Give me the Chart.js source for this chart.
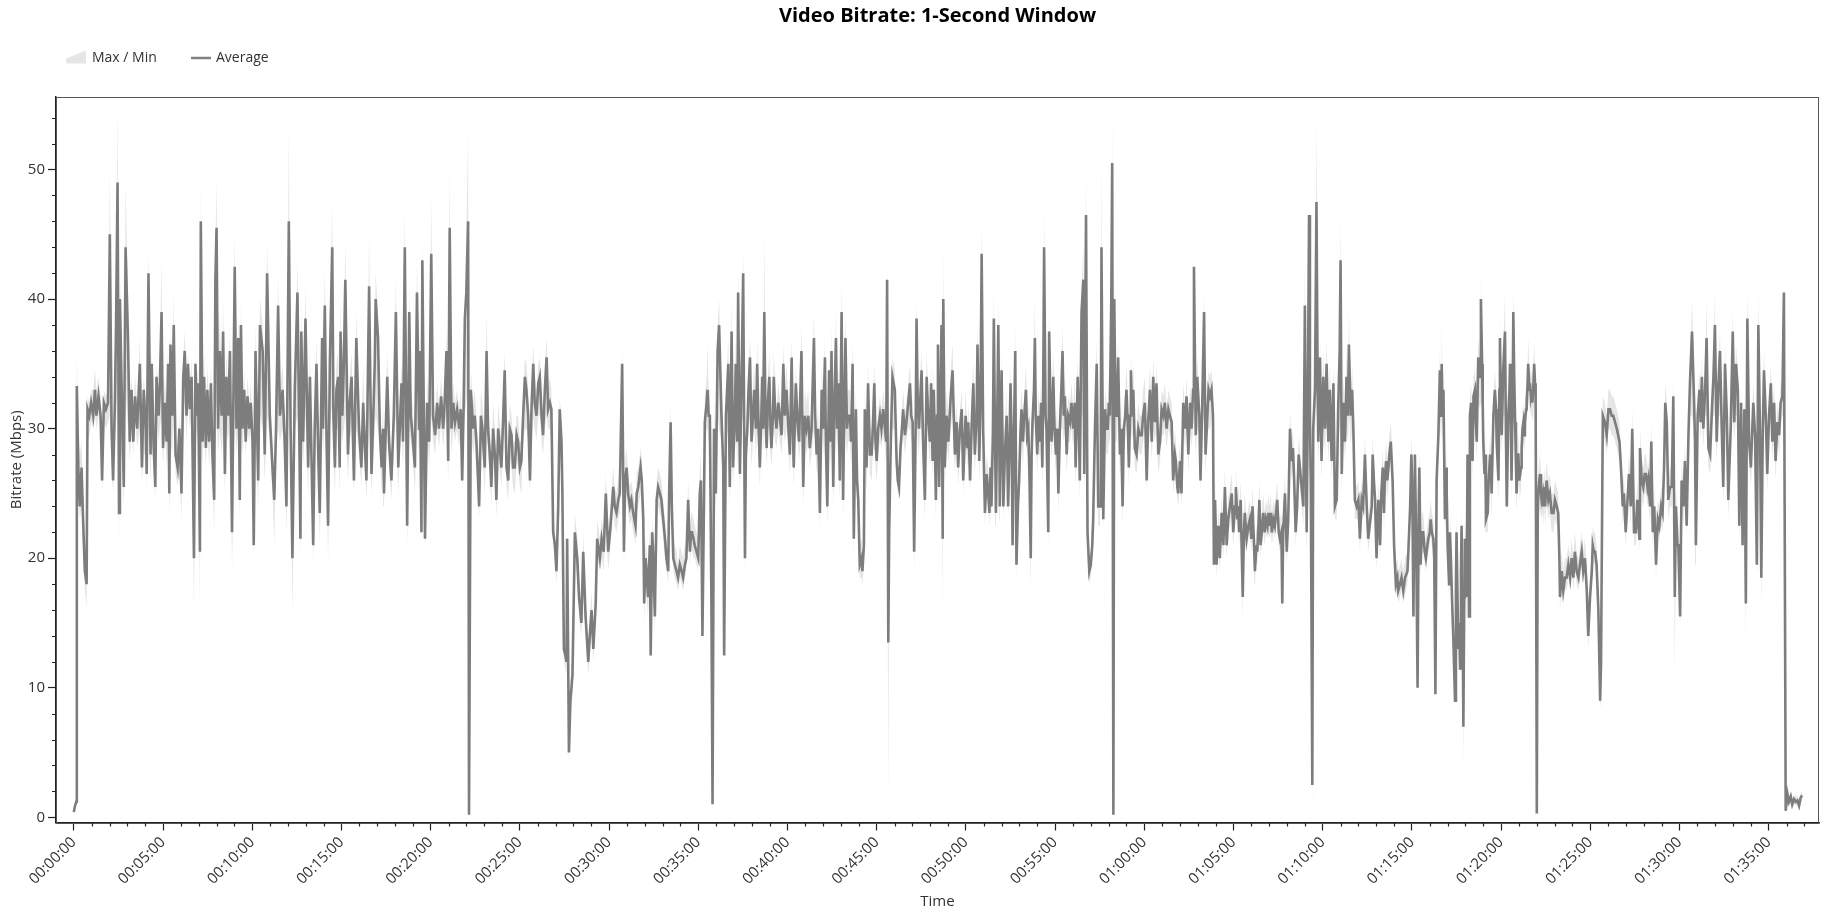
<!DOCTYPE html>
<html><head><meta charset="utf-8">
<script src="https://cdn.jsdelivr.net/npm/chart.js@4.4.1/dist/chart.umd.min.js"></script>
<style>html,body{margin:0;padding:0;background:#fff;overflow:hidden}</style>
</head><body>
<canvas id="c" width="1843" height="916"></canvas>
<script>
const chartTitle = 'Video Bitrate: 1-Second Window';
const xAxisTitle = 'Time';
const yAxisTitle = 'Bitrate (Mbps)';
const legendLabels = ['Max / Min', 'Average'];
const xMajorLabels = ['00:00:00','00:05:00','00:10:00','00:15:00','00:20:00','00:25:00','00:30:00','00:35:00','00:40:00','00:45:00','00:50:00','00:55:00','01:00:00','01:05:00','01:10:00','01:15:00','01:20:00','01:25:00','01:30:00','01:35:00'];
const yMajorLabels = [0, 10, 20, 30, 40, 50];

// seconds from start
const timeSec = [
0,3,8,10,15,20,26,31,37,43,
46,52,58,65,71,76,83,90,95,101,
108,115,121,127,132,138,142,147,152,155,
160,168,174,182,188,194,200,206,213,222,
229,235,242,245,251,258,262,268,274,278,
285,289,295,300,306,312,317,321,325,331,
336,342,349,355,362,368,373,379,384,390,
396,404,409,414,418,424,427,433,438,444,
449,455,461,466,472,476,480,485,491,497,
502,508,513,519,525,532,541,547,553,558,
562,567,573,578,584,590,595,601,605,611,
620,626,635,642,650,659,668,674,680,687,
693,702,709,715,723,729,735,743,752,758,
762,765,771,779,788,794,799,805,810,816,
822,827,835,838,844,850,855,861,869,873,
878,883,889,894,897,903,908,913,922,928,
934,942,950,959,967,973,978,984,993,1001,
1007,1012,1015,1023,1029,1035,1040,1043,1049,1054,
1060,1068,1076,1083,1091,1096,1102,1107,1113,1121,
1128,1133,1139,1147,1154,1161,1163,1169,1172,1181,
1188,1195,1202,1208,1215,1222,1228,1235,1242,1247,
1253,1259,1264,1270,1276,1282,1289,1296,1301,1306,
1311,1315,1320,1326,1329,1335,1343,1348,1354,1363,
1369,1374,1382,1388,1393,1399,1404,1410,1416,1421,
1427,
1438,1444,1449,1455,1461,1466,1472,1477,1483,1489,
1494,1500,1505,1511,1517,1522,1528,1534,1539,1545,
1550,1556,1562,1567,1573,1578,1584,1590,1595,1601,
1606,1612,1618,1623,1629,1634,1640,1643,1648,1653,
1657,1659,1665,1670,1677,1685,1693,1699,1707,1713,
1721,1730,1735,1741,1747,1755,1760,1769,1775,1782,
1789,1797,1805,1814,1819,1825,1831,1836,1844,1850,
1854,1859,1864,1870,1875,1881,1889,1893,1898,1906,
1910,1915,1918,1923,1926,1931,1937,1940,1945,1948,
1954,1960,1965,1971,1976,1982,1988,1993,1999,2002,
2007,2011,2016,2021,2027,2032,2038,2044,2049,2055,
2060,2066,2072,2076,2079,2084,2088,2094,2100,2105,
2109,2114,2119,2122,2128,2131,2135,2139,2144,2148,
2153,2159,2165,
2170,2178,2184,2187,2193,2201,2206,2212,2217,2223,
2226,2231,2234,2240,2245,2251,2257,2260,2265,2269,
2274,2279,2284,2288,2294,2298,2303,2307,2312,2315,
2318,2322,2326,2330,2334,2339,2343,2346,2351,2354,
2359,2363,2369,2374,2380,2386,2391,2397,2402,2408,
2414,2417,2421,2428,2434,2439,2447,2453,2458,2464,
2470,2475,2481,2489,2493,2498,2503,2509,2515,2520,
2526,2529,2534,2540,2545,2548,2554,2559,2563,2567,
2571,2576,2582,2587,2592,2595,2600,2604,2610,2614,
2619,2623,2627,2630,2634,2638,2643,2649,2652,2657,
2660,2666,2671,2677,2683,2687,2692,2696,2700,2705,
2711,2716,2722,2728,2732,2735,2739,2742,2747,2753,
2761,2767,2771,2775,2780,2785,2789,2795,2800,2806,
2812,2816,2821,2826,2831,2834,2838,2842,2846,2851,
2856,2862,2868,2873,2879,
2883,2888,2892,2896,2899,2903,2906,2910,2915,2918,
2922,2924,2929,2935,2941,2949,2955,2963,2969,2974,
2980,2986,2991,2999,3005,3008,3014,3019,3025,3030,
3036,3039,3045,3049,3053,3058,3064,3070,3075,3079,
3083,3086,3091,3094,3098,3101,3105,3109,3112,3114,
3120,3126,3131,3137,3142,3146,3150,3154,3157,3162,
3166,3170,3175,3179,3184,3187,3192,3195,3202,3206,
3210,3214,3218,3221,3224,3229,3232,3235,3240,3244,
3249,3253,3257,3260,3263,3268,3271,3277,3280,3285,
3288,3294,3298,3303,3307,3311,3316,3321,3325,3329,
3333,3339,3344,3350,3355,3361,3366,3369,3376,3380,
3383,3389,3395,3398,3404,3409,3415,3420,3425,3428,
3434,3440,3445,3451,3454,3456,3460,3462,3468,3473,
3477,3481,3484,3489,3492,3496,3499,3503,3507,3512,
3518,3522,3527,3531,3536,3540,3545,3548,3552,3555,
3559,3563,3568,3574,3580,3585,3591,3596,3602,3608,
3613,
3619,3625,3630,3636,3641,3647,3653,3658,3664,3669,
3675,3681,3686,3692,3697,3703,3706,3711,3714,3720,
3725,3731,3737,3742,3748,3754,3759,3764,3767,3773,
3778,3785,3789,3795,3801,3806,3812,3816,3821,3826,
3831,3834,3838,3843,3849,3854,3860,3866,3871,3877,
3882,3888,3894,3899,3905,3908,3913,3916,3919,3924,
3931,3935,3938,3944,3950,3955,3960,3964,3969,3972,
3977,3980,3983,3987,3991,3995,4000,4005,4009,4014,
4017,4021,4025,4029,4034,4039,4047,4052,4056,4061,
4064,4067,4073,4079,4084,4090,4095,4100,4104,4109,
4114,4119,4123,4129,4135,4140,4144,4146,4150,4154,
4157,4160,4165,4168,4174,4179,4183,4185,4191,4196,
4202,4208,4213,4219,4224,4230,4236,4241,4247,4252,
4257,4260,4264,4269,4275,4280,4285,4288,4292,4295,
4299,4303,4308,4314,4320,4325,4331,4336,4342,4348,
4353,
4365,4368,4372,4376,4381,4387,4393,4397,4402,4406,
4409,4413,4417,4421,4424,4429,4432,4435,4440,4446,
4451,4454,4460,4465,4471,4477,4480,4485,4488,4494,
4498,4501,4505,4508,4510,4514,4519,4523,4525,4529,
4534,4538,4543,4547,4552,4555,4560,4563,4567,4572,
4575,4579,4583,4589,4594,4598,4600,4603,4606,4611,
4615,4617,4620,4625,4628,4631,4636,4639,4645,4648,
4650,4654,4656,4659,4662,4665,4667,4671,4673,4676,
4678,4682,4684,4687,4690,4692,4695,4699,4701,4704,
4707,4712,4715,4718,4721,4723,4729,4732,4736,4738,
4740,4744,4747,4749,4755,4758,4763,4766,4768,4772,
4774,4779,4783,4785,4791,4794,4796,4798,4802,4807,
4813,4816,4819,4822,4824,4828,4830,4833,4835,4839,
4841,4844,4847,4850,4852,4856,4858,4861,4863,4867,
4869,4872,4875,4878,4880,4884,4886,4889,4891,4895,
4897,4900,4903,4905,4908,4911,4914,4916,4920,4923,
4925,4928,4931,4934,4936,4940,4942,4945,4948,4953,
4959,4964,4970,4976,4981,4987,4992,4996,4998,5004,
5009,5015,5020,5026,5032,5037,5043,5048,5054,5060,
5065,5071,5076,5082,5088,5093,5099,
5105,5108,5112,5116,5121,5127,5133,5136,5142,5149,
5155,5161,5166,5172,5177,5183,5189,5198,5203,5209,
5213,5219,5225,5230,5236,5241,5247,5253,5258,5265,
5267,5273,5278,5283,5287,5292,5295,5301,5305,5310,
5315,5321,5327,5332,5338,5343,5348,5352,5357,5362,
5368,5374,5379,5384,5388,5393,5396,5402,5407,5413,
5418,5424,5430,5435,5442,5449,5452,5455,5461,5467,
5471,5475,5480,5486,5491,5497,5503,5508,5514,5519,
5525,5531,5536,5542,5547,5553,5559,5564,5572,5579,
5584,5590,5596,5601,5607,5612,5618,5623,5628,5634,
5640,5648,5654,5660,5665,5671,5675,5680,5684,5690,
5695,5701,5707,5712,5718,5723,5729,5735,5740,5746,
5751,5757,5763,5768,5774,5779,5785,5791,5796,5802,
5807,5812
];

const avgMbps = [
0.4,0.8,1.2,33.3,27,24,27,23,19,18,
31.5,31,32,31,33,31,32.5,31,26,32,
31.5,32,45,30,26,32,38,49,23.5,40,
34,25.5,44,37,29,33,29,32.5,30,35,
27,33,30,26.5,42,28,35,29,25.5,34,
31,33,39,28.5,32,29,35,25,36.5,31,
38,28,27,30,25,34,36,31,35,31.5,
34,20,35,31,33.5,20.5,46,29,34,28.5,
33,29,33.5,28,24.5,41.5,45.5,30,36,31,
37.5,26.5,34,31,36,22,42.5,30,37,24.5,
38,30,33,29,32.5,30,32,29,21,36,
26,38,36,28,42,31,27,24.5,30,39.5,
31,33,29,24,46,30,20,33,40.5,30,
21.5,37.5,29,38.5,27,34,28,21,30,35,
28,23.5,37,30,39.5,29,22.5,35,44,31,
27,33,34,27,37.5,31,35,41.5,28,32,
34,26,37,30,27,32,29,26,41,26.5,
31,35,40,37,30,27,30,25,30,34,
29,26,31,39,27,30,33.5,29,44,22.5,
39,31,29.5,27,40.5,30,36,22,43,21.5,
32,29,43.5,31,29.5,32,30,32.5,30,32,
36,27.5,45.5,30,32,30.5,31.5,30,31.5,26,
32,38.5,40.5,46,0.2,33,30,31,29,24,
31,30,27,36,30,28,25.5,30,28,24.5,
30,
27,31,34.5,27,26,30,29.5,27,27,29.5,
29,27,27.5,31,34,33,31,26,31.5,35,
32,31,33.5,34,31,29.5,33,35.5,31.5,32,
31.5,22,21,19,24,31.5,29,25,13,12.5,
12,21.5,5,9,11,22,20,17,15,20.5,
15.5,12,14,16,13,16.5,21.5,20,21.5,20.5,
25,20.5,22.5,25.5,24,23.5,24.5,25,35,20.5,
26,27,25,24,24.5,23.5,22.5,25,25.5,27,
26,23,16.5,20,19,17,21,12.5,22,20.5,
15.5,24.5,25.5,25,24.5,23,21.5,20,19,25,
30.5,24,20,19.5,19,18.5,19.5,19,18.5,19.5,
20,24.5,20.5,22,22,21.5,21,20.5,20,25,
26,14,24,30.5,32,33,31,31,17,1,
30,25,36,
38,31,27,12.5,31,35,25.5,37.5,27,31,
35,29,40.5,26.5,33,42,20,28,30,33,
35.5,29,31,33,30,35,30,27,31,34,
30,39,31,28.5,32,34,30,28.5,31,34,
31,30,32,31,29.5,35,31,33,30.5,28,
35.5,31,27,33.5,30.5,29,36,25.5,31,30,
31,28.5,30,37,31,28,30,23.5,33,30,
35.5,29,24,34.5,29,36,25.5,33,37,30,
33.5,26,39,24.5,33,37,30,31,31,29,
35,21.5,28,31.5,26,24.5,19.5,20,19,21,
31.5,27,33.5,28,28,30,33.5,29,27.5,30,
31,30,31.5,30,29,41.5,13.5,22,28.5,34,
33,27.5,26,25.5,28.5,30,31.5,29.5,30.5,32,
33.5,31,30.5,20.5,30,38.5,32,30,32,34.5,
29,24.5,34,31,29,
33.5,27.5,33,28.5,24.5,31,36.5,25.5,33,38,
21.5,40,27,31,29,32.5,34.5,28,30.5,27,
30,31.5,26,31,28.5,30.5,26,30,33.5,28,
31,36.5,27.5,32,43.5,30,23.5,26.5,25,23.5,
27,24,30,38.5,29,23.5,30,38,30,24,
34.5,24,28,31,24,28,33.5,29,21,30,
36,19.5,24,26,30,31.5,29,30.5,33,29.5,
30,26,20,28,30.5,33,37,31,28,31,
29,32,27,33,44,31,30,22,37.5,31,
29,34,30,28,30,25,30,33,36,31,
32.5,28,31,30.5,32,30,32,27,34,30,
26,39,41.5,26.5,46.5,22,19,19.5,21,23,
30,35,24,24,31,44,30,23,31.5,30,
30,32,31,40,50.5,0.2,40,31,31,35.5,
28,30,24,30,31,33,30,27,31,34.5,
31,33,28.5,28,30,29.5,29.5,31,32,26,
30.5,
33,29,34,30.5,33.5,28,29,31.5,31,32,
30,31.5,31,30.5,26,28,27.5,25.5,25,27.5,
25,32,30,32.5,28,32,30,33,42.5,29.5,
34,31,26,32,39,28,31,33,32.5,33,
31,19.5,24.5,19.5,22.5,20,23.5,21,25.5,21,
23,24,25,22,24,25.5,23,24,22,24.5,
17,22,23.5,21.5,22.5,23,21.5,24,21,19,
21,20.5,22,24.5,21,22,23.5,22,23,22.5,
23.5,22.5,23.5,22,23,22.5,24.5,22,21.5,22,
16.5,22,25,20.5,23,30,27.5,28.5,26,22,
24,28,27,25.5,24,39.5,27,22,32,46.5,
31,25.5,2.5,30,33,47.5,33,29,35.5,27.5,
34,30,35,29,33,27.5,33.5,24,24.5,31.5,
36,43,26.5,32,29,34,31,36.5,33,31,
33,30,24.5,24,24.5,21.5,24.5,24,28,24,
21.5,
24,28,26,24.5,20,24.5,21,25,27,23.5,
26,27.5,26,27,28,29,27.5,26,21,18,
18.5,17.5,18,18.5,17.5,18.5,18.5,19,20.5,24,
28,26,15.5,24,28,22,10,24,27,19.5,
22,22,20.5,20,21,21.5,22,23,22,21.5,
20,9.5,26,29.5,34.5,31,35,31,33,23,
27,25,21,18,22,20,16,14,9,18,
22,16,13,15,11.5,19,22.5,14,7,17,
21.5,20,17,28,22,15.5,31,32,30.5,27.5,
32.5,33,30.5,29,33,35.5,34,40,35,32,
29,26.5,28,23,23.5,26,28,27,25,29,
31,33,31.5,29,26,33,37,34,29.5,34.5,
37.5,30,24,28,31,33,35,30,26,33,
39,34,30.5,27,25,28,28,26,26,27,
28.5,30,30.5,29.5,30.5,31.5,32,33.5,35,33,
33.5,32.5,33,32,33,35,33.5,33,0.3,23,
25,26,26.5,25,24.5,25,24,25.5,24,26,
24.5,25,23.5,23.5,24.5,24,23.5,20,17,19,
17.5,18.5,18.5,19.5,18.5,20,18.5,20.5,19,18.5,
19.5,20.5,19,20,17.5,14,17,
19,21,20.5,20.5,19.5,16,9,12,31,30.5,
29.5,31.5,31.5,31,31,30.5,30,29,27,24,
25,22,24.5,26.5,24,30,22,22,24.5,21.5,
28.5,26,25.5,26.5,26.5,25.5,26,24,29,22,
24,19.5,23,22.5,24,23.5,27,32,30.5,24.5,
25.5,25.5,32.5,17,24,21,21,15.5,26,24,
27.5,22.5,29.5,33.5,37.5,32,29,21,31,33,
30.5,34,30,33,37,28.5,28,31,34,38,
29,33.5,36,30,25.5,35,31,24.5,30,37.5,
30.5,35,33,22.5,32,21,31.5,16.5,38.5,29,
27,32,29.5,19.5,38,29,18.5,30,34.5,31,
26.5,31,33.5,29,32,27.5,30.5,29.5,32,32.5,
40.5,0.5,1.8,1.2,1.6,1.0,1.4,1.2,1.3,0.9,
1.5,1.7
];

const maxMbps = [
0.6,1.0,1.5,35.7,30,28,29,25,21,19.5,
32.5,32,33,33,34.5,33,34,32.5,27,33,
32.5,33,50,33,28,36,42,55,26,42,
37,28,49,40,32,34,31.5,34,32,37,
29,34,32,28,44,30,36,31,27,35,
33,34.5,43,31,34,31.5,37,27,38,33,
40.5,30,28.5,31,27,35.5,37.5,33,36,33,
35.5,22,36,33,35,22,49,31,36,30.5,
35,31,35,30,26,44,49.5,33,39,33,
40,28,36,33,37.5,24,45,32,39,26,
40,32,34.5,31,34,32,33.5,31,23,38,
28,40,38,30,44.5,33,29,26,32,42,
33,35,31,26,53,33,22,35,43,33,
24,40,31,41,29,36,30,23,32,37,
30,25,39,32,42.5,31,24,38,47.5,33,
29,35,36,29,40,33,37,44.5,30,34,
36,28,39,32,29,35,31,28,45,28,
33,37,42,39,32,29,32,27,32,36,
31,28,33,41.5,29,32,35,31,47,24,
41,33,32,29,43,32,38,24,45,23.5,
34,31,48,33,31,33.5,31.5,34,31.5,33.5,
37.5,29,50,32,33.5,32,33,31.5,33,28,
34,40,45,53,1,34.5,32,33,31,26,
33,32,29,39,32,30,27,32,30,26,
32,
29,33,36,29,27.5,32,31,29,29,31,
31,29,29,33,35.5,35,33,28,33,36.5,
34,33,35,35.5,33,31,35,37,33,34,
33,23.5,22,20,26,32.5,30.5,26.5,14.5,14,
13,23,6,10.5,12.5,23.5,21.5,18.5,16.5,22,
17,13,15,17.5,14,18,23,21.5,23,22,
26.5,22,24,27,25.5,25,26,27,36,22,
27.5,28.5,26.5,25.5,26,25,24,26.5,27,28.5,
27.5,24.5,18,21.5,20.5,18.5,22.5,14,23,22,
17,26,27,26.5,26,24.5,23,21.5,20.5,26,
32,26,21.5,21,20.5,19.5,21,20.5,20,21,
21.5,26,22,23.5,23.5,23,22.5,22,21.5,27,
28,15.5,26,32.5,34,36.5,33,33,19,1.5,
32,27,38,
40,33,29,14,33,37,27,40,29,33,
37,31,43,28,35,44,21.5,30,32,35,
37,31,33,35,32,37,32,29,33,36,
32,45,33,30,34,36,32,30,33,36,
33,31.5,33.5,32.5,31,36.5,33,35,32,30,
37,33,29,35,32,31,38,27,33,32,
33,30,32,39,33,30,32,25,35,32,
37,31,25.5,36,31,38,27,35,39,32,
35,28,41.5,26,35,39,32,33,33,31,
37,23,30,33,28,26,21,21.5,20.5,23,
33,29,35,30,30,32,35,31,29,31.5,
32.5,31.5,33,31.5,31,43,15,24,30,35.5,
34.5,29,27.5,27,30,31.5,33,31,32,33.5,
35,33,32,22,32,40,34,32,34,36,
31,26,36,33,31,
35,29,35,30,26,33,38,27,35,40,
23,44,29,33,31,34.5,36.5,30,32,28.5,
31.5,33,28,33,30,32,28,32,35,30,
33,38,29,34,46,32,25,28,27,25,
29,25.5,32,41,31,25,32,40,32,25.5,
36,25.5,30,33,25.5,30,35,31,22.5,32,
38,21,26,28,32,33,31,32,35,31,
32,28,21.5,30,32,35,40.5,33,30,33,
31,34,29,35,47,33,32,23.5,39,33,
31,36,32,30,32,26.5,32,35,38,33,
34,30,32.5,32,33.5,31.5,34,29,35.5,32,
28,41,44,28,50,24,20,20.5,23,25,
32,37,25.5,26,33,51,32,24.5,33,32,
32,34,33,43,54,1,42,33,33,37,
30,32,25.5,32,33,35,32,29,33,36,
33,35,30,30,32,31,31,33,34,28,
32,
35,31,35.5,32,35,30,30.5,33,32.5,33.5,
31.5,33,32.5,32,28,30,29,27,26.5,29,
26.5,33.5,31.5,34,30,33.5,31.5,35,44.5,31,
35.5,32.5,27.5,34,40.5,30,32.5,34.5,34,34.5,
33,21,26,21,24,21.5,25,22.5,27,22.5,
24.5,25.5,26.5,23.5,25.5,27,24.5,25.5,23.5,26,
18.5,23.5,25,23,24,24.5,23,25.5,22.5,20.5,
22.5,22,23.5,26,22.5,23.5,25,23.5,24.5,24,
25,24,25,23.5,24.5,24,26,23.5,23,23.5,
18,23.5,26.5,22,24.5,31.5,29,30,27.5,23.5,
25.5,29.5,28.5,27,25.5,43,29,23.5,34,48.5,
33,27,4,32,35,54,35,31,37,29,
36,32,37,31,35,29,35,25.5,26,33,
38,46.5,28,34,31,36,33,39,35,33,
35,32,26,25.5,26,23,26,25.5,29.5,25.5,
23,
25.5,29.5,27.5,26,21.5,26,22.5,26.5,28.5,25,
27.5,29,27.5,28.5,29.5,30.5,29,27.5,22.5,19.5,
20,19,19.5,20,19,20,20,20.5,22,25.5,
29.5,27.5,17,25.5,29.5,23.5,11,25.5,28.5,21,
23.5,23.5,22,21.5,22.5,23,23.5,24.5,23.5,23,
21.5,11,27.5,31,36,33,38.5,33,35,24.5,
29,26.5,22.5,19.5,23.5,21.5,17.5,15.5,10,19.5,
23.5,17.5,14.5,16.5,13,20.5,24,15.5,8.5,18.5,
23,21.5,18.5,29.5,23.5,17,32.5,33.5,32,29,
34,34.5,32,30.5,34.5,37,35.5,42,36.5,33.5,
30.5,28,29.5,24.5,25,27.5,29.5,28.5,26.5,30.5,
32.5,34.5,33,30.5,27.5,34.5,39,35.5,31,36,
40.5,31.5,25.5,29.5,32.5,34.5,36.5,31.5,27.5,35,
41,35.5,32,28.5,26.5,29.5,29.5,27.5,27.5,28.5,
30,31.5,32,31,32,33,33.5,35,37,34.5,
35,34,34.5,33.5,34.5,36.5,35,34.5,1,25,
26.5,27.5,28,26.5,26,26.5,25.5,27,25.5,27.5,
26,26.5,25,25,26,25.5,25,21.5,18.5,20.5,
19,20,20,21,20,21.5,20,22,20.5,20,
21,22,20.5,21.5,19,15.5,18.5,
20.5,22.5,22,22,21,17.5,10,13,32.5,32,
31,33,33,32.5,32.5,32,31.5,30.5,28.5,25.5,
26.5,23.5,26,28,25.5,31.5,23.5,23.5,26,23,
30,27.5,27,28,28,27,27.5,25.5,30.5,23.5,
25.5,21,24.5,24,25.5,25,28.5,33.5,32,26,
27,27,34,18.5,25.5,22.5,22.5,17,27.5,25.5,
29,24,31,35,40,33.5,30.5,22.5,32.5,34.5,
32,35.5,31.5,34.5,40,30,29.5,32.5,35.5,40.5,
30.5,35,37.5,31.5,27,36.5,32.5,26,31.5,39,
32,36.5,34.5,24,33.5,22.5,33,18,41,30.5,
28.5,33.5,31,21,40.5,30.5,20,31.5,36,32.5,
28,32.5,35,30.5,33.5,29,32,31,33.5,34,
41,1,2,1.6,2,1.4,1.8,1.6,1.7,1.3,
1.9,2
];

const minMbps = [
0.3,0.6,1.0,31,25,23,24,21,17.5,16.2,
29,29.5,30.5,30,31,30,31,30,25,30.5,
30,30.5,31,27,25,29,30,35,21,30,
28,24,33,30,27.5,30,28,31,28.5,30,
26,28,28,25.5,30,26,29,27,24.5,31,
29,30,31,27,30,27,30,23.5,29,28,
31,26.5,25.5,27,23,30,32,29,32,30,
31,16,31,29,30,16.5,33,27,30,27,
30,27,30,26,22,31,32,28,30,28,
30,25,30,29,31,19,31,28,30,23,
30,28,31,28,30,29,30,27,20,30,
24,31,30,26,31,29,25,21,28,30,
29,30,27,22,33,27,15.5,30,31,28,
20,30,27,31,25,30,26,19.5,27,30,
26,21,30,28,31,27,19.5,30,32,28,
25,30,30,25,30,29,30,31,26,29,
30,25,30,28,25.5,29,27,24.5,31,25,
28,30,31,30,28,25,27,24,28,30,
27,24.5,29,31,25,28,30,27,31,21,
30,29,28,25,31,28,30,21,31,20.5,
30,27,31,29,28,30,28.5,30.5,28.5,30,
31,26,32,28,30,29,30,28.5,30,25,
30,31,32,33,0.1,30,28,29,27,23,
29,28,25,30,28,26.5,24,28,26.5,23,
28,
25.5,29,31,25.5,24.5,28,27,25.5,25,27.5,
27,25.5,25,29,30,30,29,25,29,31,
30,29,31,31,29,28,30,31,30,30,
29,21,19.5,18,22,29,26,23,12,11.5,
11,18,4,8,9.5,20,18.5,15.5,14,18,
14,11,12.5,14.5,12,15,20,19,20,19,
23,19,21,24,22.5,22,23,23.5,31,19.5,
24,25,23.5,22.5,23,22,21,23.5,24,25,
24,21,15,18.5,17,15.5,19,12,20,19,
14,23,24,23.5,23,21.5,20,19,18,22,
28,22,19,18.5,18,17.5,18.5,18,17.5,18.5,
19,23,19.5,21,20.5,20,20,19.5,19,23,
24,13,21,28,30,30,29,28,15,0.4,
27,23,31,
30,29,25,12,29,30,24,30,25.5,29,
30,27,31,25,30,31,19,26,28,30,
31,27,29,30,28,30,28,25.5,29,30,
28,31,29,27,30,30,28,27,29,30,
29,28.5,30,29,28,30,29,30,29,26.5,
30,29,25.5,30,29,27.5,30,24,29,28,
29,27,28,30,29,26.5,28,22,30,28,
31,27,22.5,30,27,30,24,30,31,28,
30,24.5,31,23,29,30,28,29,29,27,
30,20,26,29,24,23,18.5,18.5,18,19.5,
29,25,30,26.5,26,28,30,27,26,28,
29,28.5,29.5,28.5,27,31,1,20,27,30,
30,26,25,24.5,27,28.5,29.5,28,29,30,
30,29,29,19,28,31,29,28,30,30,
27,23,30,29,27,
30,26,30,27,23,29,31,24,30,31,
16,31,25.5,29,27.5,30,31,26.5,29,25.5,
28.5,30,25,29,27,29,25,28,30,26.5,
29,31,26,29,32,28,22.5,25,24,22.5,
25,23,27,30,26,22.5,28,31,27,23,
30,23,26,29,23,26,30,27,20,28,
30,18.5,22.5,24.5,28,29,27,29,30,28,
28,24,17.5,26,29,30,31,29,26.5,29,
27.5,30,25.5,30,32,29,28,21,31,29,
27.5,30,28,26.5,28,23.5,28,30,30,29,
30,26.5,29,29,30,28.5,30,25.5,30,28,
24.5,31,31,25,32,20,18,18.5,20,21.5,
28,30,22.5,22.5,28,31,27,22,29,28,
28,29,29,31,33,0.1,30,29,29,31,
26.5,28,22.5,28,29,30,28,25.5,29,30,
29,30,27,26.5,28.5,28,28,29,30,25,
29,
30,27.5,30,29,30,26.5,27.5,29.5,29.5,30,
28.5,30,29.5,29,25,26.5,26,24.5,24,26,
24,30,28.5,30.5,26.5,30,28.5,30,31,28,
30,29.5,25,30,31,26.5,29.5,30,30,31,
28,18.5,23,18.5,21,19,22,20,24,20,
22,22.5,23.5,21,22.5,24,22,22.5,21,23,
15.5,21,22,20.5,21.5,22,20.5,22.5,20,18,
20,19.5,21,23,20,21,22,21,22,21.5,
22,21.5,22,21,22,21.5,23,21,20.5,21,
15.5,21,23.5,19.5,22,28,26,27,24.5,21,
22.5,26,25.5,24,22.5,30,24,21,28,33,
27,24,0.4,27,30,33,29,27.5,31,26,
30,28,31,27.5,30,26,30,23,23,29,
30,32,25,30,27.5,30,29,31,30,29,
30,28,23,23,23,20.5,23,23,26,23,
20.5,
23,26,24.5,23,19,23,20,23.5,25.5,22,
24.5,26,24.5,25.5,26.5,27.5,26,24.5,20,17,
17.5,16.5,17,17.5,16.5,17.5,17.5,18,19.5,22.5,
26,24,14.5,22,26,20.5,9.5,22,25,18.5,
20.5,21,19.5,19,20,20.5,21,22,21,20.5,
18,9,24,28,31,29,31,29,30,21.5,
25,23,19.5,17,20.5,18.5,15,13,8.5,16,
20.5,14.5,12,13.5,10.5,17,21,12,3.5,15,
20,18,15.5,26,20,14,29,30,29,26,
30.5,31,29,27.5,31,32,31.5,32,32,30,
27.5,25,26,22,22,24.5,26.5,25.5,23.5,27.5,
29.5,31,30,27.5,24.5,31,31,31,28,31,
31,28,23,26,29,31,31,28,24.5,30,
31,31,29,25,23.5,26,26.5,24.5,24.5,25.5,
27,28.5,29,28,29,30,30.5,31.5,32,31.5,
31.5,31,31,30.5,31,32,31.5,31,0.1,21,
23.5,24.5,25,23.5,23,23.5,22.5,24,22.5,24.5,
23,23.5,22,22,23,22.5,22,18.5,16,18,
16.5,17.5,17.5,18.5,17.5,19,17.5,19.5,18,17.5,
18.5,19.5,18,19,16.5,13,16,
18,20,19.5,19.5,18.5,15,8.5,9,29.5,29,
28,30,30,29.5,29.5,29,28.5,27.5,25.5,22.5,
23.5,21,23,25,22.5,28,21,21,23,20.5,
27,24.5,24,25,25,24,24.5,22.5,27.5,21,
22.5,18.5,22,21.5,22.5,22,25.5,30,29,23,
24,24,30,11,22,20,20,14.5,24.5,22.5,
26,21.5,28,31,31,30,27.5,19.5,29.5,31,
29,31,28.5,31,31,27,26.5,29.5,31,31,
27.5,31,31,28.5,24,31,29.5,23,28.5,31,
29,31,31,21,30,20,30,13.5,31,27.5,
25.5,30,28,18.5,31,27.5,16,28,31,29.5,
25,29.5,31,27.5,30,26,29,28,30.5,31,
31,0.3,1.3,0.9,1.2,0.7,1,0.9,1,0.6,
1.1,1.3
];

// ---- axis setup ----
const X_MIN = -60, X_MAX = 5869;
const Y_MIN = -0.4, Y_MAX = 55.6;
const X_MINOR_STEP = 60, X_LAST_TICK = 5820;
const Y_MINOR_STEP = 2, Y_LAST_TICK = 54;

const toSec = s => { const [h, m, sec] = s.split(':').map(Number); return h * 3600 + m * 60 + sec; };
const majorXMap = {};
xMajorLabels.forEach(l => { majorXMap[toSec(l)] = l; });
const xTickValues = [];
for (let v = 0; v <= X_LAST_TICK; v += X_MINOR_STEP) xTickValues.push(v);
const yTickValues = [];
for (let v = 0; v <= Y_LAST_TICK; v += Y_MINOR_STEP) yTickValues.push(v);

const n = Math.min(timeSec.length, avgMbps.length, maxMbps.length, minMbps.length);
if (n !== timeSec.length || n !== avgMbps.length || n !== maxMbps.length || n !== minMbps.length) {
  console.warn('length mismatch', timeSec.length, avgMbps.length, maxMbps.length, minMbps.length);
}
const pts = vals => timeSec.slice(0, n).map((t, i) => ({ x: t, y: vals[i] }));

const FONT = "'Open Sans', 'Noto Sans', sans-serif";
Chart.defaults.font.family = FONT;
Chart.defaults.color = '#333';

const frame = {
  id: 'frame',
  afterLayout(chart) {
    const tb = chart.titleBlock, ca = chart.chartArea;
    if (tb) { tb.left = ca.left; tb.right = ca.right; tb.width = ca.right - ca.left; }
  },
  afterDraw(chart) {
    const { ctx, chartArea: ca, scales } = chart;
    ctx.save();
    ctx.strokeStyle = '#555';
    ctx.lineWidth = 1;
    ctx.strokeRect(Math.round(ca.left) + 0.5, Math.round(ca.top) + 0.5, Math.round(ca.right - ca.left) - 1, Math.round(ca.bottom - ca.top));
    ctx.strokeStyle = '#222';
    ctx.lineWidth = 1.2;
    ctx.beginPath();
    xTickValues.forEach(v => {
      if (majorXMap[v] !== undefined) return;
      const px = Math.round(scales.x.getPixelForValue(v)) + 0.5;
      ctx.moveTo(px, ca.bottom); ctx.lineTo(px, ca.bottom + 4);
    });
    yTickValues.forEach(v => {
      if (v % 10 === 0) return;
      const py = Math.round(scales.y.getPixelForValue(v)) + 0.5;
      ctx.moveTo(ca.left - 4, py); ctx.lineTo(ca.left, py);
    });
    ctx.stroke();
    // legend
    ctx.fillStyle = '#e6e6e6';
    ctx.beginPath();
    ctx.moveTo(66, 63.5); ctx.lineTo(86, 63.5); ctx.lineTo(86, 50.5); ctx.lineTo(66, 58.5); ctx.closePath();
    ctx.fill();
    ctx.strokeStyle = '#808080';
    ctx.lineWidth = 2.5;
    ctx.beginPath(); ctx.moveTo(191, 58); ctx.lineTo(211, 58); ctx.stroke();
    ctx.fillStyle = '#333';
    ctx.font = "14px " + FONT;
    ctx.textBaseline = 'middle';
    ctx.textAlign = 'left';
    ctx.fillText(legendLabels[0], 92, 58);
    ctx.fillText(legendLabels[1], 216, 58);
    ctx.restore();
  }
};

new Chart(document.getElementById('c').getContext('2d'), {
  type: 'line',
  data: {
    datasets: [
      { label: legendLabels[1], data: pts(avgMbps), borderColor: '#7d7d7d', borderWidth: 2.6, pointRadius: 0, fill: false, tension: 0, order: 0, borderJoinStyle: 'miter' },
      { label: legendLabels[0], data: pts(maxMbps), borderColor: 'rgba(0,0,0,0)', borderWidth: 0, backgroundColor: '#e5e5e5', pointRadius: 0, fill: '+1', tension: 0, order: 1 },
      { label: 'Min', data: pts(minMbps), borderColor: 'rgba(0,0,0,0)', borderWidth: 0, pointRadius: 0, fill: false, tension: 0, order: 2 }
    ]
  },
  options: {
    responsive: false,
    animation: false,
    events: [],
    layout: { padding: { left: 0, right: 24, top: 0, bottom: 0 } },
    plugins: {
      legend: { display: false },
      tooltip: { enabled: false },
      title: { display: true, text: chartTitle, color: '#000', font: { size: 20, weight: 'bold' }, padding: { top: 4, bottom: 69 } }
    },
    scales: {
      x: {
        type: 'linear', min: X_MIN, max: X_MAX,
        afterBuildTicks: s => { s.ticks = xTickValues.map(v => ({ value: v })); },
        afterFit: s => { s.height = 93.5; },
        ticks: { autoSkip: false, minRotation: 45, maxRotation: 45, padding: 3, color: '#333', font: { size: 15 },
          callback: v => (majorXMap[v] !== undefined ? majorXMap[v] : '') },
        grid: { display: true, drawOnChartArea: false, drawTicks: true, tickLength: 8, tickWidth: 1.2,
          tickColor: c => (c.tick && majorXMap[c.tick.value] !== undefined ? '#222' : 'rgba(0,0,0,0)') },
        border: { display: true, color: '#222', width: 1.5 },
        title: { display: true, text: xAxisTitle, color: '#333', font: { size: 15 }, padding: { top: 0, bottom: 5.5 } }
      },
      y: {
        type: 'linear', min: Y_MIN, max: Y_MAX,
        afterBuildTicks: s => { s.ticks = yTickValues.map(v => ({ value: v })); },
        afterFit: s => { s.width = 56; },
        ticks: { autoSkip: false, padding: 3, color: '#333', font: { size: 15 },
          callback: v => (yMajorLabels.includes(v) ? String(v) : '') },
        grid: { display: true, drawOnChartArea: false, drawTicks: true, tickLength: 8, tickWidth: 1.2,
          tickColor: c => (c.tick && yMajorLabels.includes(c.tick.value) ? '#222' : 'rgba(0,0,0,0)') },
        border: { display: true, color: '#222', width: 1.5 },
        title: { display: true, text: yAxisTitle, color: '#333', font: { size: 15 }, padding: { top: 8, bottom: 0 } }
      }
    }
  },
  plugins: [frame]
});
</script>
</body></html>
